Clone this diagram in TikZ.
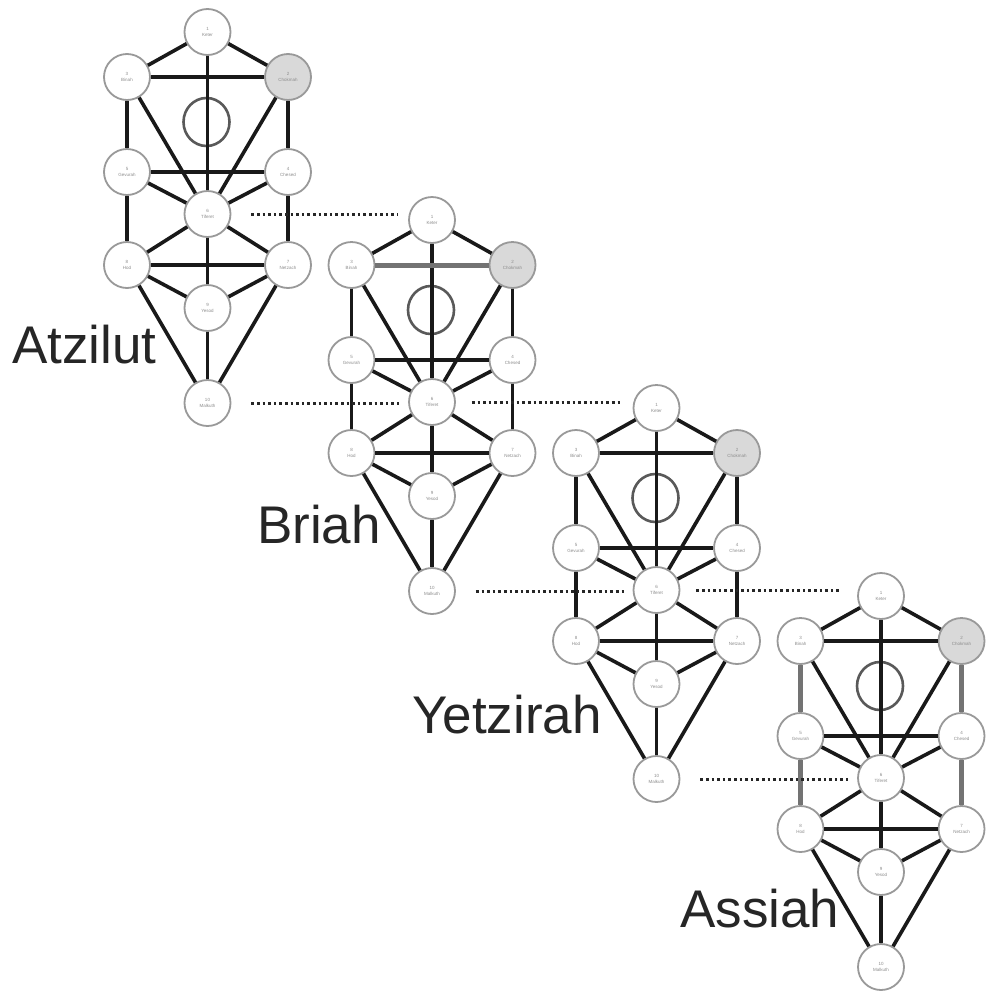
\documentclass[tikz,border=0pt]{standalone}
\usepackage{fontspec}
\setmainfont{Liberation Sans}
\usetikzlibrary{shapes.geometric}
\newcommand\sefirottree[6]{%
  % #1 prefix, #2 x, #3 y, #4 pillar style, #5 top bar style, #6 label
  \begin{scope}[shift={(#2,#3)}]
    \node[seph]   (#1k)  at (0,0)       {1\\Keter};
    \node[seph]   (#1b)  at (-80.5,45)  {3\\Binah};
    \node[shaded] (#1c)  at (80.5,45)   {2\\Chokmah};
    \node[daat]   (#1d)  at (-1,90)     {};
    \node[seph]   (#1g)  at (-80.5,140) {5\\Gevurah};
    \node[seph]   (#1ch) at (80.5,140)  {4\\Chesed};
    \node[seph]   (#1t)  at (0,182)     {6\\Tiferet};
    \node[seph]   (#1h)  at (-80.5,233) {8\\Hod};
    \node[seph]   (#1n)  at (80.5,233)  {7\\Netzach};
    \node[seph]   (#1y)  at (0,276)     {9\\Yesod};
    \node[seph]   (#1m)  at (0,371)     {10\\Malkuth};
  \end{scope}
  \draw[sefpath] (#1k) -- (#1b);
  \draw[sefpath] (#1k) -- (#1c);
  \draw[sefpath] (#1k) -- (#1t);
  \draw[sefpath,#5] (#1b) -- (#1c);
  \draw[sefpath,#4] (#1b) -- (#1g);
  \draw[sefpath,#4] (#1c) -- (#1ch);
  \draw[sefpath] (#1b) -- (#1t);
  \draw[sefpath] (#1c) -- (#1t);
  \draw[sefpath] (#1g) -- (#1ch);
  \draw[sefpath] (#1g) -- (#1t);
  \draw[sefpath] (#1ch) -- (#1t);
  \draw[sefpath,#4] (#1g) -- (#1h);
  \draw[sefpath,#4] (#1ch) -- (#1n);
  \draw[sefpath] (#1t) -- (#1h);
  \draw[sefpath] (#1t) -- (#1n);
  \draw[sefpath] (#1h) -- (#1n);
  \draw[sefpath] (#1t) -- (#1y);
  \draw[sefpath] (#1h) -- (#1y);
  \draw[sefpath] (#1n) -- (#1y);
  \draw[sefpath] (#1h) -- (#1m);
  \draw[sefpath] (#1n) -- (#1m);
  \draw[sefpath] (#1y) -- (#1m);
}
\begin{document}
\begin{tikzpicture}[x=1pt,y=-1pt,
  seph/.style={circle, draw=black!40, line width=1.8pt, fill=white,
    minimum size=46pt, inner sep=0pt, align=center,
    font=\fontsize{4.5}{5.5}\selectfont, text=black!45},
  shaded/.style={seph, fill=black!15},
  daat/.style={ellipse, draw=black!65, line width=2.6pt,
    minimum width=46pt, minimum height=48pt, inner sep=0pt},
  sefpath/.style={line width=3.6pt, black!90},
  graypillar/.style={line width=5pt, black!55},
  graybar/.style={line width=5pt, black!55},
  plain/.style={},
  dotline/.style={line width=3pt, dash pattern=on 2.6pt off 3pt, black!85},
  world/.style={font=\fontsize{53}{60}\selectfont, anchor=base west,
    inner sep=0pt, text=black!85}
]
\useasboundingbox (0,0) rectangle (987,991);
\fill[white] (0,0) rectangle (987,991);

\sefirottree{a}{207.5}{32}{plain}{plain}{}
\sefirottree{b}{432}{220}{plain}{graybar}{}
\sefirottree{c}{656.5}{408}{plain}{plain}{}
\sefirottree{d}{881}{596}{graypillar}{plain}{}

% dotted connectors between the worlds
\draw[dotline, shorten <=20pt, shorten >=10pt] (at.east) -- (at.east -| bk.west);
\draw[dotline, shorten <=20pt, shorten >=9pt]  (am.east) -- (am.east -| bt.west);
\draw[dotline, shorten <=16pt, shorten >=12pt] (bt.east) -- (bt.east -| ck.west);
\draw[dotline, shorten <=20pt, shorten >=9pt]  (bm.east) -- (bm.east -| ct.west);
\draw[dotline, shorten <=16pt, shorten >=16pt] (ct.east) -- (ct.east -| dk.west);
\draw[dotline, shorten <=20pt, shorten >=9pt]  (cm.east) -- (cm.east -| dt.west);

% names of the worlds
\node[world] (latz) at (12,363)  {Atzilut};
\node[world] (lbri) at (257,543) {Briah};
\node[world] (lyet) at (412,733) {Yetzirah};
\node[world] (lass) at (680,927) {Assiah};
\end{tikzpicture}
\end{document}
